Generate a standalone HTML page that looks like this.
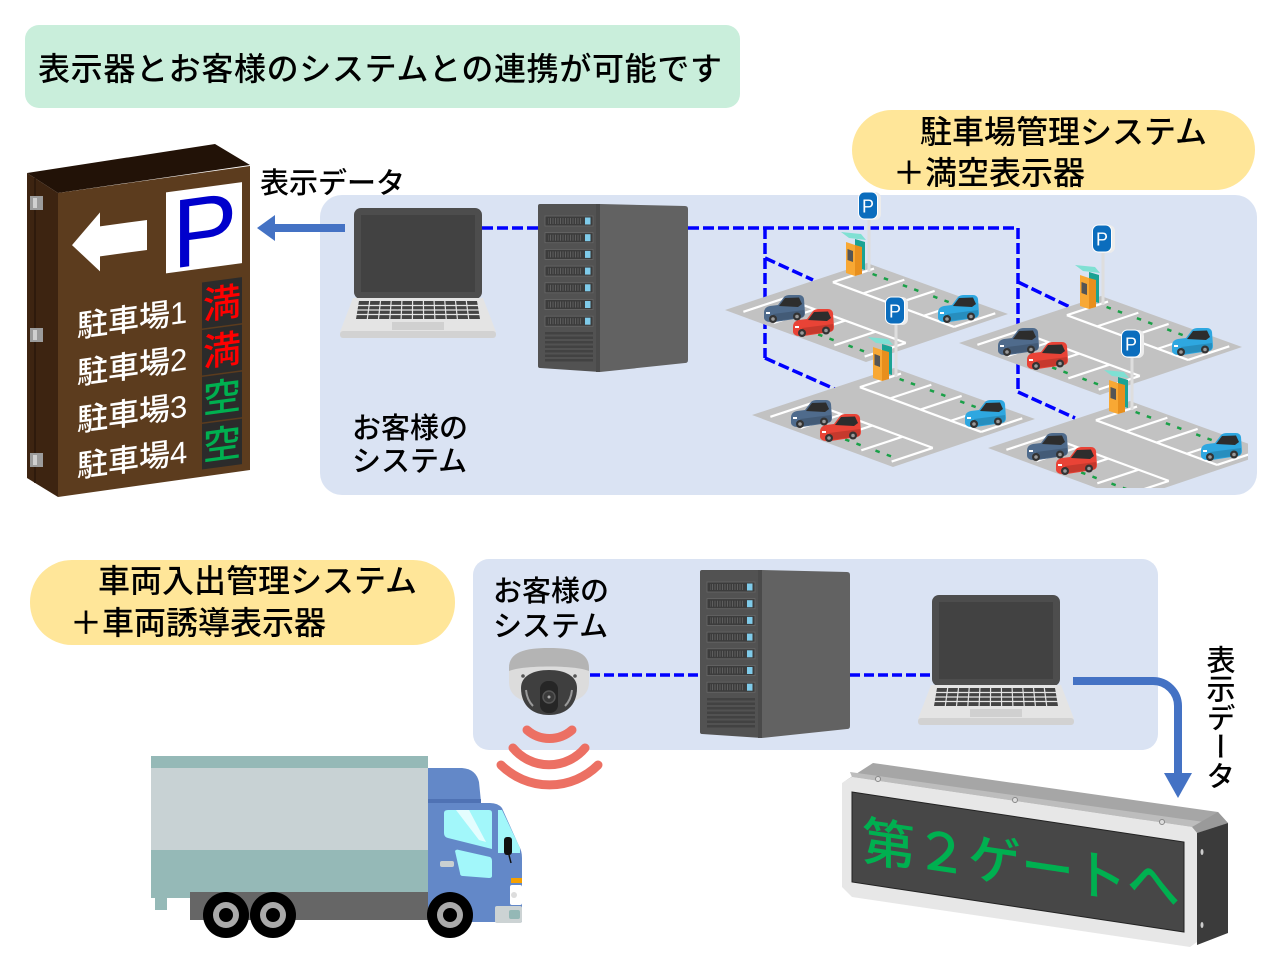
<!DOCTYPE html>
<html><head><meta charset="utf-8">
<style>
html,body{margin:0;padding:0;background:#fff;}
body{width:1280px;height:960px;position:relative;overflow:hidden;font-family:"Liberation Sans","Noto Sans CJK JP",sans-serif;}
svg{position:absolute;left:0;top:0;}
svg text{font-family:"Liberation Sans","Noto Sans CJK JP",sans-serif;font-weight:500;}
.vt{position:absolute;left:1203px;top:645px;writing-mode:vertical-rl;font-size:29px;line-height:30px;color:#000;font-weight:500;font-family:"Liberation Sans","Noto Sans CJK JP",sans-serif;}
</style></head><body>
<svg width="1280" height="960" viewBox="0 0 1280 960">
<defs>
  <pattern id="gr" width="2.5" height="8" patternUnits="userSpaceOnUse"><rect width="2.5" height="8" fill="#3c3c3c"/><rect width="1" height="8" fill="#5e5e5e"/></pattern>
  <clipPath id="lc"><rect x="700" y="190" width="548" height="298"/></clipPath>

  <g id="car">
    <path d="M1,20 Q1,14 7,13 L15,12 L21,4 Q23,2 27,2 L36,2 Q40,2 41,6 L42,20 Q42,24 38,25 L12,29 Q2,30 1,25 Z" fill="currentColor"/>
    <path d="M16,13 L22,5 L36,4.5 L39,11 L35,14 Z" fill="#2d2d2d"/>
    <path d="M10,21 L41,17 L41,21 Q41,24 38,24.5 L12,28 Z" fill="#000" opacity="0.15"/>
    <rect x="3" y="19" width="4" height="2" fill="#fff"/>
    <circle cx="10" cy="26" r="4" fill="#333"/><circle cx="10" cy="26" r="1.8" fill="#999"/>
    <circle cx="34" cy="23.5" r="4" fill="#333"/><circle cx="34" cy="23.5" r="1.8" fill="#999"/>
  </g>

  <g id="lot">
    <polygon points="-144,98 -2,51 139,102 -3,150" fill="#c2c2c2"/>
    <g transform="matrix(1.42,-0.47,1.41,0.52,-144,98)">
      <path vector-effect="non-scaling-stroke" fill="none" stroke="#fff" stroke-width="2.2"
        d="M68,8 L68,94 M68,8 L97,8 M68,29.5 L97,29.5 M68,51 L97,51 M68,72.5 L97,72.5 M68,94 L97,94
           M34,8 L34,94 M5,8 L34,8 M5,29.5 L34,29.5 M5,51 L34,51 M5,72.5 L34,72.5 M5,94 L34,94"/>
      <path vector-effect="non-scaling-stroke" fill="none" stroke="#1aa048" stroke-width="2.5"
        d="M91,13 L91,16 M91,21 L91,24 M91,34.5 L91,37.5 M91,42.5 L91,45.5 M91,56 L91,59 M91,64 L91,67
           M10,56 L10,59 M10,64 L10,67 M10,77.5 L10,80.5 M10,85.5 L10,88.5"/>
    </g>
    <use href="#car" x="-106" y="81" style="color:#4f6b8c"/>
    <use href="#car" x="-77" y="95" style="color:#e94336"/>
    <use href="#car" x="68" y="81" style="color:#2ea7e0"/>
    <rect x="-1.5" y="5" width="3" height="55" fill="#dedede"/>
    <polygon points="-28,20 -8,22 -3,28 -20,26" fill="#7fe0d3"/>
    <polygon points="-14,27 -4,30 -4,58 -14,55" fill="#1aa394"/>
    <polygon points="-14,33 -7,35 -7,62 -14,64" fill="#e88f1d"/>
    <polygon points="-23,30 -14,33 -14,64 -23,61" fill="#f8a834"/>
    <polygon points="-21.5,37 -16,39 -16,50 -21.5,48" fill="#555"/>
    <rect x="-9" y="-20" width="21" height="28" rx="6" fill="#ececec"/>
    <rect x="-10.5" y="-20" width="19" height="27" rx="6" fill="#0b6dbd" stroke="#fff" stroke-width="1"/>
    <text x="-1" y="0.5" font-size="18" font-weight="bold" fill="#fff" text-anchor="middle">P</text>
  </g>

  <g id="laptop">
    <rect x="354" y="208" width="128" height="91" rx="7" fill="#4d4d4d"/>
    <rect x="361" y="215" width="114" height="77" fill="#424242"/>
    <path d="M353,298 H483 L496,332 H340 Z" fill="#e4e4e4"/>
    <rect x="340" y="331" width="156" height="7" rx="3" fill="#d2d2d2"/>
    <path d="M359,301 H477 L480,319 H356 Z" fill="#444"/>
    <path fill="none" stroke="#e4e4e4" stroke-width="1.2" d="M356,305.5 H481 M356,310 H481 M356,314.5 H481
      M369.7,301 L367.3,319 M380.5,301 L378.5,319 M391.2,301 L389.8,319 M401.9,301 L401.1,319 M412.6,301 L412.4,319
      M423.4,301 L423.6,319 M434.1,301 L434.9,319 M444.8,301 L446.2,319 M455.5,301 L457.4,319 M466.3,301 L468.7,319"/>
    <rect x="392" y="322" width="52" height="8" fill="#d0d0d0"/>
  </g>

  <g id="server">
    <path d="M600,204 L685,206 Q688,206 688,209 L688,360 Q688,363 685,363 L600,372 Z" fill="#626262"/>
    <path d="M540,204 H600 V372 L540,368 Q538,368 538,366 V206 Q538,204 540,204 Z" fill="#525252"/>
    <rect x="596" y="204" width="4" height="168" fill="#4a4a4a"/>
    <g stroke="#686868" stroke-width="0.8">
      <rect x="545" y="216" width="48" height="10" fill="#3c3c3c"/>
      <rect x="545" y="232.7" width="48" height="10" fill="#3c3c3c"/>
      <rect x="545" y="249.4" width="48" height="10" fill="#3c3c3c"/>
      <rect x="545" y="266.1" width="48" height="10" fill="#3c3c3c"/>
      <rect x="545" y="282.8" width="48" height="10" fill="#3c3c3c"/>
      <rect x="545" y="299.5" width="48" height="10" fill="#3c3c3c"/>
      <rect x="545" y="316.2" width="48" height="10" fill="#3c3c3c"/>
    </g>
    <g fill="url(#gr)">
      <rect x="548" y="218" width="33" height="6"/><rect x="548" y="234.7" width="33" height="6"/>
      <rect x="548" y="251.4" width="33" height="6"/><rect x="548" y="268.1" width="33" height="6"/>
      <rect x="548" y="284.8" width="33" height="6"/><rect x="548" y="301.5" width="33" height="6"/>
      <rect x="548" y="318.2" width="33" height="6"/>
    </g>
    <g fill="#7fcbea">
      <rect x="585" y="217.5" width="5.5" height="7"/><rect x="585" y="234.2" width="5.5" height="7"/>
      <rect x="585" y="250.9" width="5.5" height="7"/><rect x="585" y="267.6" width="5.5" height="7"/>
      <rect x="585" y="284.3" width="5.5" height="7"/><rect x="585" y="301" width="5.5" height="7"/>
      <rect x="585" y="317.7" width="5.5" height="7"/>
    </g>
    <g fill="#424242">
      <rect x="545" y="332" width="48" height="2.5"/><rect x="545" y="336.5" width="48" height="2.5"/>
      <rect x="545" y="341" width="48" height="2.5"/><rect x="545" y="345.5" width="48" height="2.5"/>
      <rect x="545" y="350" width="48" height="2.5"/><rect x="545" y="354.5" width="48" height="2.5"/>
      <rect x="545" y="359" width="48" height="2.5"/>
    </g>
  </g>
</defs>

<!-- Title -->
<rect x="25" y="25" width="715" height="83" rx="14" fill="#c9eedb"/>
<text x="38" y="80" font-size="32" textLength="684" lengthAdjust="spacing" fill="#000">表示器とお客様のシステムとの連携が可能です</text>

<!-- Yellow pill 1 -->
<rect x="852" y="110" width="403" height="80" rx="40" fill="#ffe699"/>
<text x="920" y="143" font-size="32" fill="#000">駐車場管理システム</text>
<text x="893" y="184" font-size="32" fill="#000">＋満空表示器</text>

<text x="260" y="193" font-size="29" fill="#000">表示データ</text>

<!-- Blue box 1 -->
<rect x="320" y="195" width="937" height="300" rx="22" fill="#dae3f3"/>

<!-- Arrow to sign -->
<rect x="272" y="224" width="73" height="8" fill="#4472c4"/>
<polygon points="257,228 275,215 275,241" fill="#4472c4"/>

<!-- dashed network lines -->
<path fill="none" stroke="#0000ff" stroke-width="3.5" stroke-dasharray="11 4"
  d="M482,228 H538 M688,228 H1018 V392 M765,228 V358 M765,258 L813,280 M765,358 L837,390 M1018,282 L1072,308 M1018,392 L1075,418"/>

<!-- parking lots -->
<g clip-path="url(#lc)">
  <use href="#lot" x="869" y="212"/>
  <use href="#lot" x="1103" y="245"/>
  <use href="#lot" x="896" y="317"/>
  <use href="#lot" x="1132" y="350"/>
</g>

<use href="#laptop"/>
<use href="#server"/>

<text x="352" y="438" font-size="29" fill="#000">お客様の</text>
<text x="352" y="471" font-size="29" fill="#000">システム</text>

<!-- Sign board -->
<polygon points="27,173 215,144 250,165 58,193" fill="#221207"/>
<polygon points="27,173 58,193 58,497 27,478" fill="#3d2411"/>
<line x1="35" y1="178" x2="35" y2="483" stroke="#2a170a" stroke-width="1.5"/>
<polygon points="58,193 250,166 250,470 58,497" fill="#5c3c1e"/>
<g fill="#9c9c9c">
  <rect x="30" y="196" width="13" height="14"/><rect x="30" y="328" width="13" height="14"/><rect x="30" y="453" width="13" height="14"/>
</g>
<g fill="#d0d0d0">
  <rect x="33" y="198" width="4" height="10"/><rect x="33" y="330" width="4" height="10"/><rect x="33" y="455" width="4" height="10"/>
</g>
<g transform="translate(58,193) skewY(-7.7)">
  <polygon points="14,54 42,25 42,39 89,39 89,69 42,69 42,84" fill="#fff"/>
  <rect x="108" y="14" width="76" height="81" fill="#fff"/>
  <text x="114" y="91" font-size="98" fill="#0000cc">P</text>
  <g font-size="31" fill="#fff">
    <text x="19" y="147">駐車場1</text>
    <text x="19" y="194">駐車場2</text>
    <text x="19" y="241">駐車場3</text>
    <text x="19" y="287">駐車場4</text>
  </g>
  <g fill="#2b2b2b">
    <rect x="144" y="109" width="40" height="46"/>
    <rect x="144" y="156.5" width="40" height="45.5"/>
    <rect x="144" y="203.5" width="40" height="45.5"/>
    <rect x="144" y="250.5" width="40" height="45.5"/>
  </g>
  <g font-size="38" text-anchor="middle">
    <text x="164" y="146" fill="#ff0000">満</text>
    <text x="164" y="193" fill="#ff0000">満</text>
    <text x="164" y="240" fill="#00b050">空</text>
    <text x="164" y="287" fill="#00b050">空</text>
  </g>
</g>

<!-- Lower section -->
<rect x="30" y="560" width="425" height="85" rx="42" fill="#ffe699"/>
<text x="98" y="592" font-size="32" fill="#000">車両入出管理システム</text>
<text x="70" y="634" font-size="32" fill="#000">＋車両誘導表示器</text>

<rect x="473" y="559" width="685" height="191" rx="16" fill="#dae3f3"/>
<text x="493" y="601" font-size="29" fill="#000">お客様の</text>
<text x="493" y="636" font-size="29" fill="#000">システム</text>

<path fill="none" stroke="#0000ff" stroke-width="3.5" stroke-dasharray="10 4" d="M590,675 H700 M850,675 H935"/>

<!-- camera -->
<path d="M509,668 C509,652 525,648 549,648 C573,648 589,652 589,668 L589,682 C589,700 570,704 549,704 C528,704 509,700 509,682 Z" fill="#dcdcdc"/>
<path d="M509,668 C509,652 525,648 549,648 C573,648 589,652 589,668 L589,671 C575,665 523,665 509,671 Z" fill="#b4b4b4"/>
<path d="M521,688 C521,676 533,670 549,670 C565,670 577,676 577,688 C577,706 565,715 549,715 C533,715 521,706 521,688 Z" fill="#3f3f3f"/>
<path d="M526,690 Q527,700 533,706" stroke="#9a9a9a" stroke-width="2" fill="none"/>
<path d="M572,690 Q571,700 565,706" stroke="#9a9a9a" stroke-width="2" fill="none"/>
<rect x="540" y="681" width="18" height="32" rx="8" fill="#262626"/>
<circle cx="549" cy="697" r="6" fill="#3a3a3a" stroke="#555" stroke-width="1.5"/>
<circle cx="549" cy="697" r="1.5" fill="#aaa"/>
<circle cx="523" cy="676" r="1.8" fill="#555"/><circle cx="575" cy="676" r="1.8" fill="#555"/>

<!-- waves -->
<g fill="none" stroke="#ec7063" stroke-width="9" stroke-linecap="round">
  <path d="M527,730 A34,34 0 0 0 572,730"/>
  <path d="M513,748 A47,47 0 0 0 585,748"/>
  <path d="M501,765 A69,69 0 0 0 598,765"/>
</g>

<use href="#server" transform="translate(162,366)"/>
<use href="#laptop" transform="translate(578,387)"/>

<!-- arrow down -->
<path d="M1073,681 H1153 A25,25 0 0 1 1178,706 V776" fill="none" stroke="#4472c4" stroke-width="8"/>
<polygon points="1164,773 1192,773 1178,798" fill="#4472c4"/>

<!-- LED display -->
<polygon points="842,783 873,763 1218,812 1228,823 1197,833 1192,827 852,777" fill="#a6a6a6"/>
<polygon points="850,772 1204,822 1192,827 852,777" fill="#bdbdbd"/>
<polygon points="1218,812 1228,823 1197,833 1192,827" fill="#9a9a9a"/>
<polygon points="842,783 852,777 1192,827 1197,833 1197,942 1190,947 852,897 842,887" fill="#e7e7e7"/>
<polygon points="1197,833 1228,823 1228,933 1197,945" fill="#3b3b3b"/>
<polygon points="852,792 1184,842 1184,932 852,882" fill="#474747" stroke="#222" stroke-width="1"/>
<g fill="#ddd" stroke="#888" stroke-width="1">
  <circle cx="878" cy="779" r="2.5"/><circle cx="1015" cy="800" r="2.5"/><circle cx="1162" cy="822" r="2.5"/>
</g>
<ellipse cx="1202" cy="852" rx="1.5" ry="3" fill="#ccc"/>
<ellipse cx="1202" cy="925" rx="1.5" ry="3" fill="#ccc"/>
<g transform="translate(852,792) skewY(8.53)">
  <text x="10" y="66" font-size="53" fill="#00b050">第２ゲートへ</text>
</g>

<!-- truck -->
<rect x="151" y="756" width="277" height="13" fill="#95b9b7"/>
<rect x="151" y="768" width="277" height="82" fill="#c8d2d4"/>
<rect x="151" y="850" width="277" height="48" fill="#95b9b7"/>
<rect x="155" y="897" width="12" height="13" fill="#95b9b7"/>
<rect x="190" y="892" width="283" height="28" fill="#666"/>
<path d="M428,768 H462 Q476,769 479,782 L481,802 H428 Z" fill="#6388c8"/>
<rect x="428" y="799" width="53" height="4" fill="#4f72b4"/>
<path d="M428,803 H490 Q498,803 502,808 L519,846 Q522,851 522,858 V922 H428 Z" fill="#6388c8"/>
<path d="M444,813 Q444,810 448,810 H489 Q492,810 492,813 V849 L448,838 Q444,837 444,833 Z" fill="#a2f7fa"/>
<path d="M456,810 L469,810 L486,842 L479,840 Z" fill="#e4fdfe"/>
<path d="M455,851 Q456,849 459,850 L490,857 Q492,858 492,861 V876 Q492,878 489,878 L463,876 Q460,876 460,873 Z" fill="#a2f7fa"/>
<path d="M498,810 L502,810 L520,848 V853 L498,853 Z" fill="#a2f7fa"/>
<rect x="504" y="837" width="8" height="18" rx="3" fill="#111"/>
<line x1="509" y1="855" x2="511" y2="863" stroke="#111" stroke-width="1.5"/>
<rect x="440" y="861" width="14" height="6" rx="2" fill="#c9cfd1"/>
<rect x="511" y="878" width="11" height="5" fill="#f5a000"/>
<rect x="510" y="885" width="12" height="20" rx="2" fill="#fff"/>
<circle cx="514" cy="895" r="3" fill="#ddd"/>
<rect x="495" y="906" width="27" height="17" rx="2" fill="#ccd3d4"/>
<rect x="509" y="910" width="11" height="9" rx="2" fill="#94b8b6"/>
<g>
  <circle cx="226" cy="915" r="23" fill="#000"/><circle cx="226" cy="915" r="13" fill="#aaa"/><circle cx="226" cy="915" r="7" fill="#000"/>
  <circle cx="273" cy="915" r="23" fill="#000"/><circle cx="273" cy="915" r="13" fill="#aaa"/><circle cx="273" cy="915" r="7" fill="#000"/>
  <circle cx="450" cy="915" r="23" fill="#000"/><circle cx="450" cy="915" r="13" fill="#aaa"/><circle cx="450" cy="915" r="7" fill="#000"/>
</g>
</svg>
<div class="vt">表示データ</div>
</body></html>
